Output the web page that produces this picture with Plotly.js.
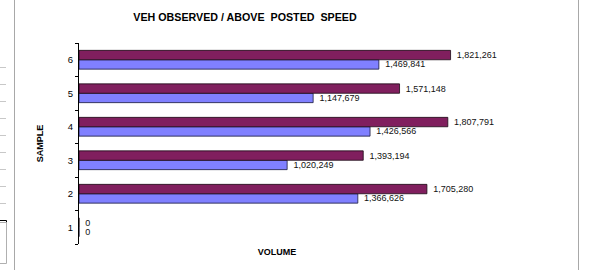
<!DOCTYPE html>
<html>
<head>
<meta charset="utf-8">
<script src="https://cdn.plot.ly/plotly-3.0.1.min.js"></script>
<style>html,body{margin:0;padding:0;background:#fff;}#chart{width:592px;height:270px;}</style>
</head>
<body>
<div id="chart"></div>
<script>
// Data
var samples = ['1', '2', '3', '4', '5', '6'];
var vehObserved = [0, 1705280, 1393194, 1807791, 1571148, 1821261];
var aboveSpeed = [0, 1366626, 1020249, 1426566, 1147679, 1469841];

var FONT = 'Liberation Sans, Arial, sans-serif';
var L = 79, R = 475, T = 43, B = 244, W = 592, H = 270;
function px(x) { return (x - L) / (R - L); }
function py(y) { return (B - y) / (B - T); }
function label(v) { return '\u00a0\u200a' + v.toLocaleString('en-US'); }

var traces = [
  {
    type: 'bar', orientation: 'h', name: 'Above posted speed',
    y: samples, x: aboveSpeed,
    marker: {color: '#8080FF', line: {color: '#1a1a3a', width: 0.8}},
    text: aboveSpeed.map(label),
    textposition: 'outside', constraintext: 'none', cliponaxis: false,
    textfont: {family: FONT, size: 9, color: '#111'},
    hoverinfo: 'x+y'
  },
  {
    type: 'bar', orientation: 'h', name: 'Vehicles observed',
    y: samples, x: vehObserved,
    marker: {color: '#801F5E', line: {color: '#1a0a14', width: 0.8}},
    text: vehObserved.map(label),
    textposition: 'outside', constraintext: 'none', cliponaxis: false,
    textfont: {family: FONT, size: 9, color: '#111'},
    hoverinfo: 'x+y'
  }
];

var shapes = [];
function line(x0, y0, x1, y1, color) {
  shapes.push({type: 'line', xref: 'paper', yref: 'paper',
    x0: px(x0), y0: py(y0), x1: px(x1), y1: py(y1),
    line: {color: color, width: 1}});
}
// page decorations around the chart
line(14.5, 0, 14.5, 270, '#a8a8a8');
line(578.5, 0, 578.5, 270, '#a8a8a8');
[67, 84, 101, 118, 135, 152, 169, 186, 203].forEach(function (y) {
  line(0, y + 0.5, 6, y + 0.5, '#c8c8c8');
});
line(0, 220.5, 6.5, 220.5, '#000');
line(6.5, 220.5, 6.5, 222.5, '#000');
shapes.push({type: 'rect', xref: 'paper', yref: 'paper',
  x0: px(-1), y0: py(222.5), x1: px(6.5), y1: py(263.5),
  line: {color: '#b0b0b0', width: 1}, fillcolor: 'rgba(0,0,0,0)'});

var layout = {
  width: W, height: H,
  margin: {l: L, r: W - R, t: T, b: H - B, pad: 0},
  paper_bgcolor: '#fff', plot_bgcolor: '#fff',
  showlegend: false,
  barmode: 'group', bargap: 0.44, bargroupgap: 0,
  font: {family: FONT, color: '#000'},
  title: {
    text: '<b>VEH OBSERVED / ABOVE  POSTED  SPEED</b>',
    font: {family: FONT, size: 10.7, color: '#000'},
    x: 245 / W, xref: 'container', xanchor: 'center',
    y: 1 - 17 / H, yref: 'container', yanchor: 'middle'
  },
  xaxis: {
    range: [0, 1941000], showgrid: false, zeroline: false, showline: false,
    showticklabels: false, ticks: '', fixedrange: true,
    title: {text: '<b>VOLUME</b>', font: {family: FONT, size: 9, color: '#000'}, standoff: 4}
  },
  yaxis: {
    type: 'category', categoryorder: 'array', categoryarray: samples,
    range: [-0.5, 5.5], showgrid: false, zeroline: false,
    showline: true, linecolor: '#000', linewidth: 1,
    ticks: 'outside', tickson: 'boundaries', ticklen: 3, tickcolor: '#000', tickwidth: 1,
    tickfont: {family: FONT, size: 9.5, color: '#000'}, ticklabelstandoff: 3,
    title: {text: '<b>SAMPLE</b>', font: {family: FONT, size: 9, color: '#000'}, standoff: 22},
    fixedrange: true
  },
  shapes: shapes
};

Plotly.newPlot('chart', traces, layout, {displayModeBar: false, staticPlot: true});
</script>
</body>
</html>
